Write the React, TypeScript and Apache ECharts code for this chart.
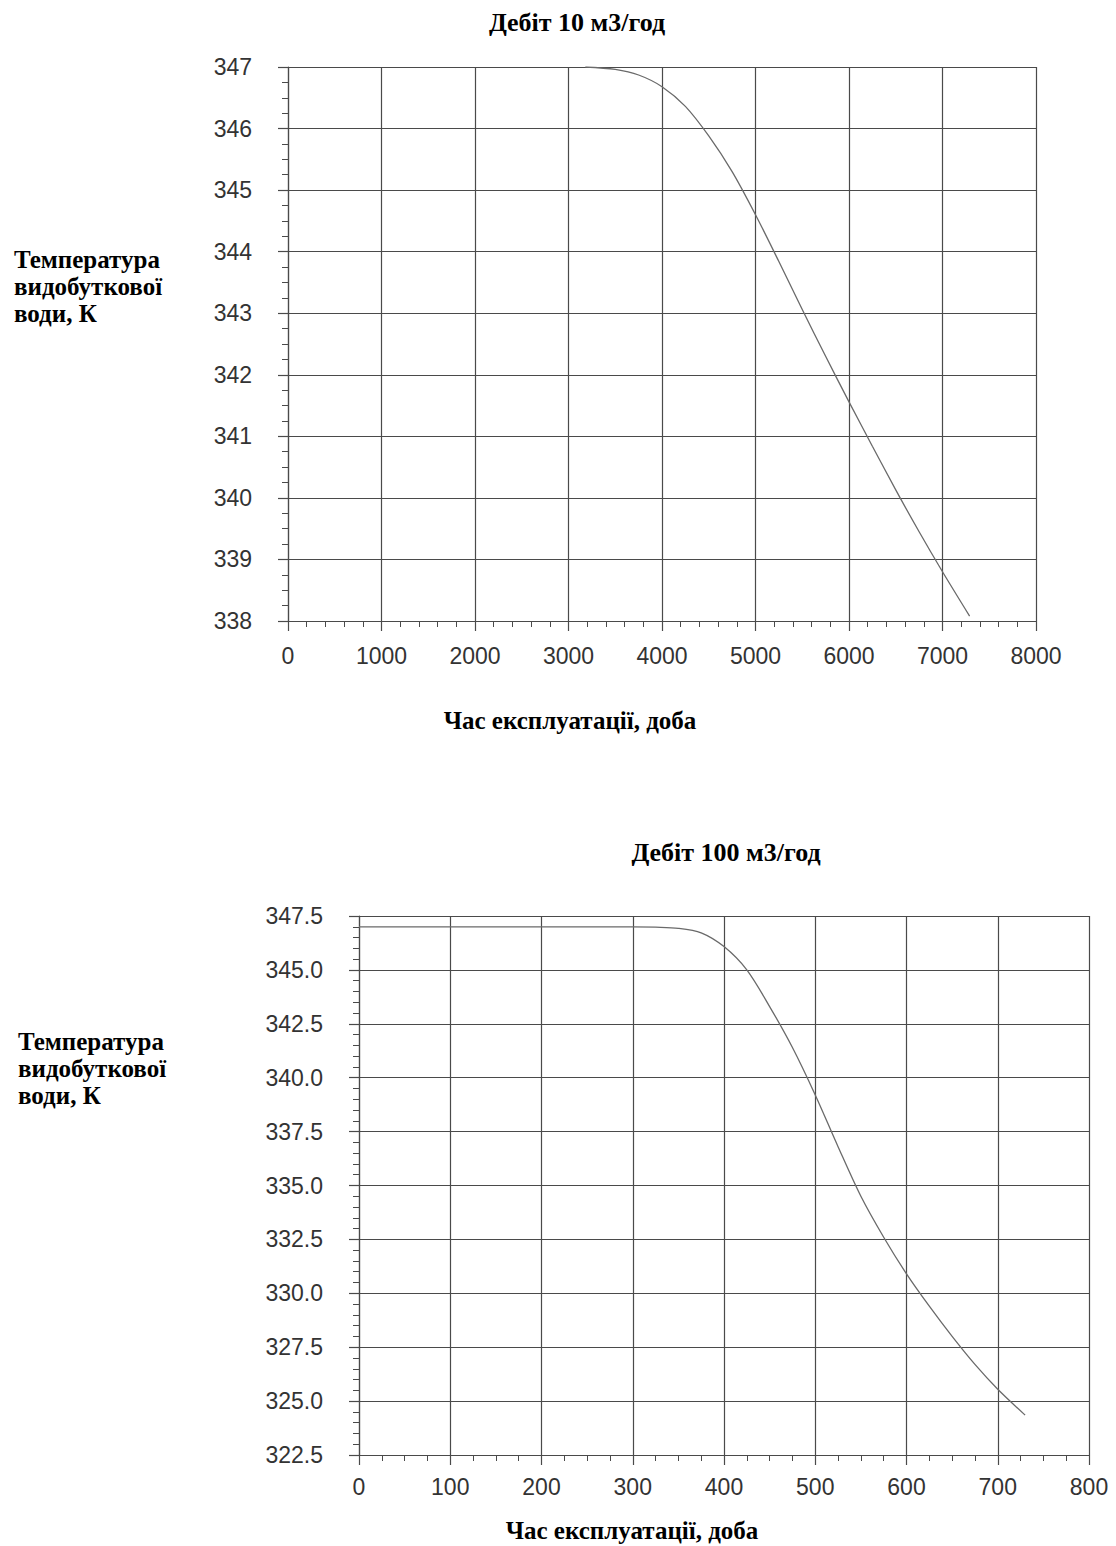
import React, { useEffect, useRef } from "react";
import * as echarts from "echarts";

// Chart 1: Дебіт 10 м3/год
const topTime = [3180, 3500, 3750, 4000, 4250, 4500, 4750, 5000, 5250, 5500, 5750, 6000, 6250, 6500, 6750, 7000, 7290];
const topTemp = [347.0, 346.96, 346.87, 346.68, 346.36, 345.88, 345.3, 344.6, 343.84, 343.06, 342.3, 341.56, 340.84, 340.13, 339.45, 338.8, 338.08];

// Chart 2: Дебіт 100 м3/год
const bottomTime = [0, 300, 325, 350, 375, 400, 425, 450, 475, 500, 525, 550, 575, 600, 625, 650, 675, 700, 730];
const bottomTemp = [347.0, 347.0, 346.98, 346.93, 346.72, 346.08, 345.0, 343.3, 341.4, 339.2, 336.8, 334.5, 332.6, 330.9, 329.4, 328.0, 326.7, 325.55, 324.35];

const titles = ["Дебіт 10 м3/год", "Дебіт 100 м3/год"];
const yName = "Температура\nвидобуткової\nводи, К";
const xName = "Час експлуатації, доба";

const GRID = "#4a4a4a";
const LABEL = "#333";
const SANS = "'Liberation Sans', Arial, sans-serif";
const SERIF = "'Liberation Serif', 'Times New Roman', serif";

function axisCommon(minorSplit: number) {
  return {
    type: "value" as const,
    axisLine: { show: true, lineStyle: { color: GRID, width: 1.2 } },
    axisTick: { show: true, inside: false, length: 10, lineStyle: { color: GRID, width: 1.2 } },
    minorTick: { show: true, splitNumber: minorSplit, length: 6, lineStyle: { color: GRID } },
    splitLine: { show: true, lineStyle: { color: GRID, width: 1.2 } },
    axisLabel: { color: LABEL, fontFamily: SANS, fontSize: 23 },
  };
}

export default function App() {
  const ref = useRef<HTMLDivElement>(null);
  useEffect(() => {
    if (!ref.current) return;
    const chart = echarts.init(ref.current, null, { renderer: "svg" });
    const titleFont = `bold 26px ${SERIF}`;
    const nameFont = `bold 25px ${SERIF}`;
    const plain = (v: number) => String(v);
    const option = {
      animation: false,
      backgroundColor: "#fff",
      grid: [
        { left: 288, top: 67, width: 748, height: 554 },
        { left: 359, top: 916, width: 730, height: 539 },
      ],
      xAxis: [
        {
          ...axisCommon(5),
          gridIndex: 0,
          min: 0,
          max: 8000,
          interval: 1000,
          axisLabel: { ...axisCommon(5).axisLabel, margin: 23, formatter: plain },
        },
        {
          ...axisCommon(4),
          gridIndex: 1,
          min: 0,
          max: 800,
          interval: 100,
          axisLabel: { ...axisCommon(4).axisLabel, margin: 20, formatter: plain },
        },
      ],
      yAxis: [
        {
          ...axisCommon(4),
          gridIndex: 0,
          min: 338,
          max: 347,
          interval: 1,
          axisLabel: { ...axisCommon(4).axisLabel, margin: 36, formatter: plain },
        },
        {
          ...axisCommon(5),
          gridIndex: 1,
          min: 322.5,
          max: 347.5,
          interval: 2.5,
          axisLabel: {
            ...axisCommon(5).axisLabel,
            margin: 36,
            formatter: (v: number) => v.toFixed(1),
          },
        },
      ],
      series: [
        {
          type: "line",
          xAxisIndex: 0,
          yAxisIndex: 0,
          data: topTime.map((t, i) => [t, topTemp[i]]),
          showSymbol: false,
          smooth: 0.3,
          lineStyle: { color: "#6a6a6a", width: 1.3 },
        },
        {
          type: "line",
          xAxisIndex: 1,
          yAxisIndex: 1,
          data: bottomTime.map((t, i) => [t, bottomTemp[i]]),
          showSymbol: false,
          smooth: 0.3,
          lineStyle: { color: "#6a6a6a", width: 1.3 },
        },
      ],
      graphic: [
        { type: "text", x: 577, y: 22, style: { text: titles[0], font: titleFont, fill: "#000", align: "center", verticalAlign: "middle" } },
        { type: "text", x: 726, y: 852, style: { text: titles[1], font: titleFont, fill: "#000", align: "center", verticalAlign: "middle" } },
        { type: "text", x: 570, y: 720, style: { text: xName, font: nameFont, fill: "#000", align: "center", verticalAlign: "middle" } },
        { type: "text", x: 632, y: 1530, style: { text: xName, font: nameFont, fill: "#000", align: "center", verticalAlign: "middle" } },
        { type: "text", x: 14, y: 246, style: { text: yName, font: nameFont, fill: "#000", align: "left", verticalAlign: "top", lineHeight: 27 } },
        { type: "text", x: 18, y: 1028, style: { text: yName, font: nameFont, fill: "#000", align: "left", verticalAlign: "top", lineHeight: 27 } },
      ],
    };
    chart.setOption(option as any);
    return () => chart.dispose();
  }, []);
  return (
    <div
      ref={ref}
      style={{ position: "absolute", left: 0, top: 0, width: 1116, height: 1546 }}
    />
  );
}
